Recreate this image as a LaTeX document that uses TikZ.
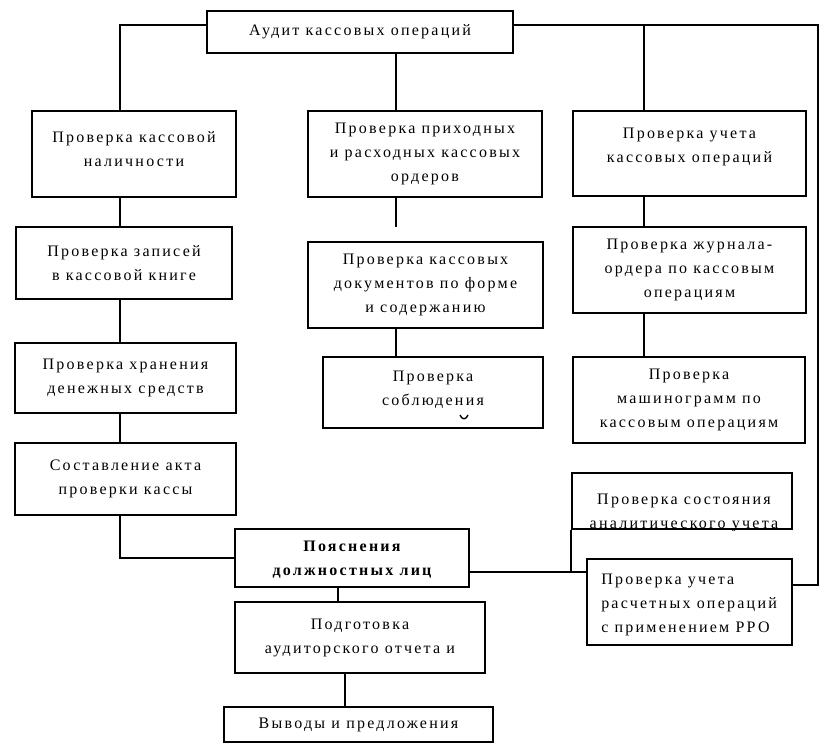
\documentclass[tikz,border=0pt]{standalone}
\usepackage{fontspec}
\setmainfont{Liberation Serif}[LetterSpace=14]
\tikzset{
  box/.style={draw, line width=1.5pt, inner sep=0pt, align=center, font=\fontsize{12}{18}\selectfont},
  txt/.style={inner sep=0pt, font=\fontsize{12}{18}\selectfont},
  ln/.style={line width=1.5pt},
}
\newcommand\boxnode[6]{%
  \node[box, minimum width={(#4-#2)*0.75pt}, minimum height={(#5-#3)*0.75pt}] (#1) at ({(#2+#4)/2},{(#3+#5)/2}) {#6};}
\begin{document}
\begin{tikzpicture}[x=0.75pt,y=-0.75pt]
\useasboundingbox (0,0) rectangle (822,745);
% boxes
\boxnode{top}{207}{11}{513}{53}{Аудит кассовых операций}
\boxnode{B1}{32}{111}{236}{197}{Проверка кассовой\\наличности\\[-10pt]\mbox{}}
\boxnode{B1b}{16}{227}{232}{299}{Проверка записей\\в кассовой книге}
\boxnode{B1c}{15}{343}{236}{413}{Проверка хранения\\денежных средств}
\boxnode{B1d}{15}{443}{236}{515}{Составление акта\\проверки кассы}
\boxnode{B2}{308}{111}{542}{197}{Проверка приходных\\и расходных кассовых\\ордеров}
\boxnode{B2b}{308}{242}{543}{328}{Проверка кассовых\\документов по форме\\и содержанию}
\boxnode{B2c}{323}{357}{543}{428}{}
\boxnode{B3}{573}{111}{806}{196}{Проверка учета\\кассовых операций\\[-5.8pt]\mbox{}}
\boxnode{B3b}{573}{227}{806}{313}{Проверка журнала-\\ордера по кассовым\\операциям}
\boxnode{B3c}{573}{357}{805}{443}{Проверка\\машинограмм по\\кассовым операциям}
\boxnode{B3d}{572}{473}{792}{529}{}
\boxnode{B3e}{587}{559}{792}{645}{}
\boxnode{P}{235}{529}{469}{587}{}
\boxnode{G}{235}{602}{485}{673}{Подготовка\\аудиторского отчета и}
\boxnode{V}{224}{707}{493}{742}{Выводы и предложения}
% texts inside boxes
\node[txt, align=center] (B2ct) at (433,390) {Проверка\\соблюдения};
\draw[line width=1pt] (460,415) .. controls (462,420) and (466,420) .. (468,415);
\begin{scope}
  \clip (B3d.south west) rectangle (B3d.north east);
  \node[txt, align=center] (B3dt) at (684,513) {Проверка состояния\\аналитического учета};
\end{scope}
\begin{scope}
  \clip (P.south west) rectangle (P.north east);
  \node[txt, align=center, font=\fontsize{12}{18}\selectfont\bfseries] (Pt) at (352,560) {Пояснения\\должностных лиц};
\end{scope}
\node[txt, align=left, anchor=west] (B3et) at (601,605) {Проверка учета\\расчетных операций\\с применением РРО};
% helper coordinates
\coordinate (busY) at (0,25);
\coordinate (xL) at (120,0);
\coordinate (xM) at (396,0);
\coordinate (xR) at (644,0);
\coordinate (xO) at (818,0);
\coordinate (yO) at (0,585);
\coordinate (yJ) at (0,572);
\coordinate (xP) at (338,0);
\coordinate (xG) at (345,0);
\coordinate (B2end) at (396,227);
% connectors
\draw[ln] (top.west |- busY) -| (B1.north -| xL);
\draw[ln] (top.south -| xM) -- (B2.north -| xM);
\draw[ln] (top.east |- busY) -| (B3.north -| xR);
\draw[ln] (top.east |- busY) -| (xO |- yO) -- (B3e.east |- yO);
\draw[ln] (B1.south -| xL) -- (B1b.north -| xL);
\draw[ln] (B1b.south -| xL) -- (B1c.north -| xL);
\draw[ln] (B1c.south -| xL) -- (B1d.north -| xL);
\draw[ln] (B1d.south -| xL) |- (P.west);
\draw[ln] (B2.south -| xM) -- (B2end);
\draw[ln] (B2b.south -| xM) -- (B2c.north -| xM);
\draw[ln] (B3.south -| xR) -- (B3b.north -| xR);
\draw[ln] (B3b.south -| xR) -- (B3c.north -| xR);
\draw[ln] (B3d.south west) -- (B3d.south west |- yJ);
\draw[ln] (P.east |- yJ) -- (B3e.west |- yJ);
\draw[ln] (P.south -| xP) -- (G.north -| xP);
\draw[ln] (G.south -| xG) -- (V.north -| xG);
\end{tikzpicture}
\end{document}
